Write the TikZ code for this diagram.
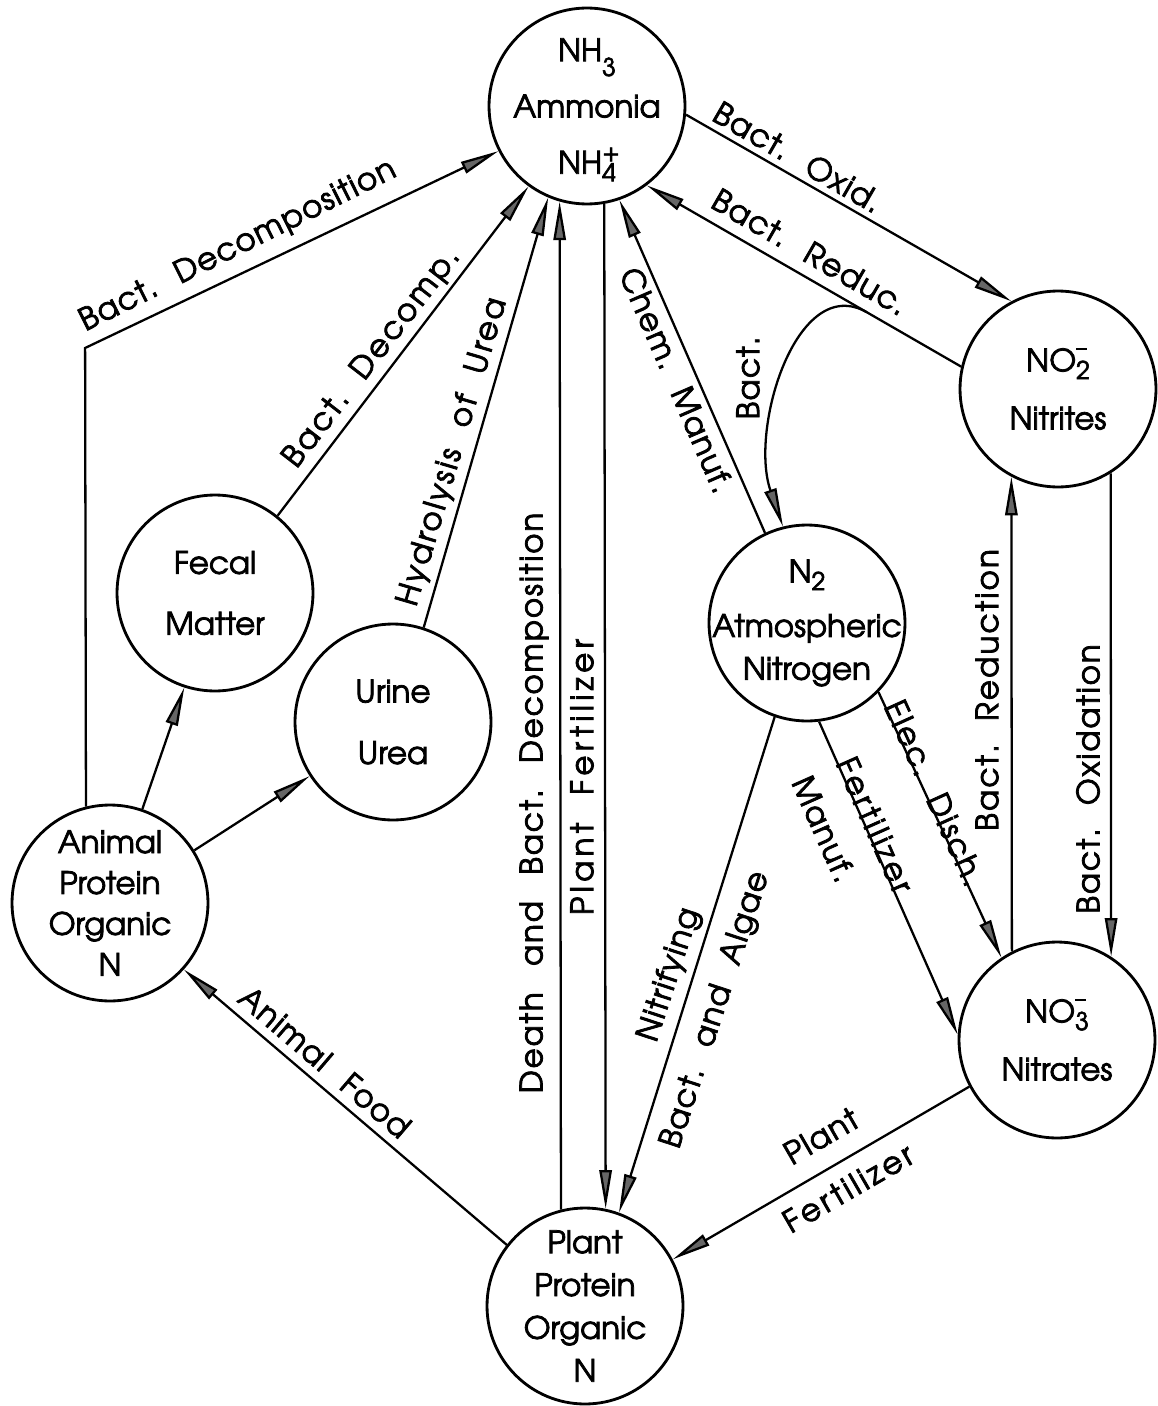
\documentclass[tikz,border=0pt]{standalone}
\usepackage{fontspec}
\setmainfont{texgyreadventor}[Extension=.otf,UprightFont=*-regular,BoldFont=*-bold,ItalicFont=*-italic,BoldItalicFont=*-bolditalic,FakeBold=2.5]
\usetikzlibrary{arrows.meta,calc}
\frenchspacing
\newcommand\lowr[2]{\smash{\raisebox{-#1}{\fontsize{14}{14}\selectfont #2}}}
\newcommand\ionpm[3]{\rlap{\smash{\raisebox{#3}{\fontsize{14}{14}\selectfont #2}}}\lowr{0.25em}{#1}}
\newcommand\minusbar{\rule{0.45em}{1.4pt}}
\newcommand\labfontx[2]{\fontsize{17.6}{21}\selectfont\addfontfeature{LetterSpace=#1}\spaceskip=#2em plus 0.1em\relax}
\begin{document}
\begin{tikzpicture}[x=0.02cm,y=-0.02cm,
  circ/.style={circle, draw, line width=1.6pt, minimum size=3.92cm, inner sep=0pt},
  ctext/.style={align=center, inner sep=0pt, font=\fontsize{17.6}{#1}\selectfont},
  lab/.style={inner sep=0pt, font=\labfontx{4}{0.75}},
  arr/.style={line width=1.3pt, -{Triangle[length=22pt,width=7pt,fill=black!60]}}]
\fill[white] (0,0) rectangle (1157,1406);
\path[use as bounding box] (0,0) rectangle (1157,1406);

% circles
\node[circ] (nh3) at (587,106) {};
\node[circ] (no2) at (1058,389) {};
\node[circ] (fecal) at (215,593) {};
\node[circ] (urine) at (393,722) {};
\node[circ] (n2) at (807,623) {};
\node[circ] (animal) at (110,903) {};
\node[circ] (no3) at (1057,1040) {};
\node[circ] (plant) at (585,1306) {};

% circle texts
\node[ctext=32pt] (nh3t) at (nh3) {NH\lowr{0.48em}{3}\\Ammonia\\NH\ionpm{4}{+}{0.42em}};
\node[ctext=33pt] (no2t) at (no2) {NO\ionpm{2}{\minusbar}{0.68em}\\Nitrites};
\node[ctext=34.6pt] (fecalt) at (fecal) {Fecal\\Matter};
\node[ctext=35pt] (urinet) at (urine) {Urine\\Urea};
\node[ctext=24.4pt] (n2t) at (n2) {N\lowr{0.25em}{2}\\[6.6pt]Atmospheric\\Nitrogen};
\node[ctext=23.3pt] (animalt) at (animal) {Animal\\Protein\\Organic\\N};
\node[ctext=33pt] (no3t) at (no3) {NO\ionpm{3}{\minusbar}{0.68em}\\Nitrates};
\node[ctext=24.4pt] (plantt) at (plant) {Plant\\Protein\\Organic\\N};

% connectors
\coordinate (corner) at (85.1,348);
\draw[arr] (animal.71.4) -- (fecal.252);
\draw[arr] (animal.32) -- (urine.213.2);
\draw[arr] (animal.104.7) -- (corner) -- (nh3.207);
\draw[arr] (fecal.51.8) -- (nh3.234.9);
\draw[arr] (urine.72.8) -- (nh3.247.6);
\draw[arr] (plant.104.8) -- (nh3.254);
\draw[arr] (nh3.280) -- (plant.78.8);
\draw[arr] (n2.115) -- (nh3.289.8);
\draw[arr] (no2.167) -- (nh3.307.9);
\draw[arr] (nh3.355.9) -- (no2.118.6);
\coordinate (branch) at ($(no2.167)!0.3!(nh3.307.9)$);
\draw[arr] (branch) .. controls +(-70,-40) and +(-34,-98) .. (n2.104.6);
\draw[arr] (no3.117.3) -- (no2.242);
\draw[arr] (no2.302) -- (no3.57.3);
\draw[arr] (n2.316.2) -- (no3.124.8);
\draw[arr] (n2.277.4) -- (no3.177.7);
\draw[arr] (n2.251) -- (plant.70.6);
\draw[arr] (no3.208) -- (plant.28.9);
\draw[arr] (plant.142) -- (animal.318.2);

% labels
\node[lab, rotate=-30] (lOxid) at (798,157) {Bact. Oxid.};
\node[lab, rotate=-30] (lReduc) at (810,252) {Bact. Reduc.};
\node[lab, rotate=26.5] (lBDecomp) at (238,246) {Bact. Decomposition};
\node[lab, rotate=52.3, font=\labfontx{8}{0.75}] (lFecalD) at (372,358) {Bact. Decomp.};
\node[lab, rotate=73.6, font=\labfontx{8}{0.75}] (lHydro) at (453,452) {Hydrolysis of Urea};
\node[lab, rotate=90, font=\labfontx{6}{0.85}] (lDeath) at (534,803) {Death and Bact. Decomposition};
\node[lab, rotate=90, font=\labfontx{14}{0.9}] (lPlantF) at (582,777) {Plant Fertilizer};
\node[lab, rotate=-66.6] (lChem) at (677,380) {Chem. Manuf.};
\node[lab, rotate=90] (lBact) at (748,378) {Bact.};
\node[lab, rotate=90, font=\labfontx{7}{0.75}] (lBRed) at (987,690) {Bact. Reduction};
\node[lab, rotate=90, font=\labfontx{6}{0.75}] (lBOx) at (1088,779) {Bact. Oxidation};
\node[lab, rotate=-65.6, font=\labfontx{6}{0.75}] (lElec) at (935,793) {Elec. Disch.};
\node[lab, rotate=-66, font=\labfontx{10}{0.75}] (lFert) at (875,825) {Fertilizer};
\node[lab, rotate=-66] (lManuf) at (824,829) {Manuf.};
\node[lab, rotate=71.9] (lNitr) at (670,975) {Nitrifying};
\node[lab, rotate=71.9] (lAlgae) at (716,1010) {Bact. and Algae};
\node[lab, rotate=-40.5] (lFood) at (325,1062) {Animal Food};
\node[lab, rotate=30] (lPlant2) at (821,1136) {Plant};
\node[lab, rotate=30, font=\labfontx{10}{0.75}] (lFert2) at (848,1188) {Fertilizer};
\end{tikzpicture}
\end{document}
